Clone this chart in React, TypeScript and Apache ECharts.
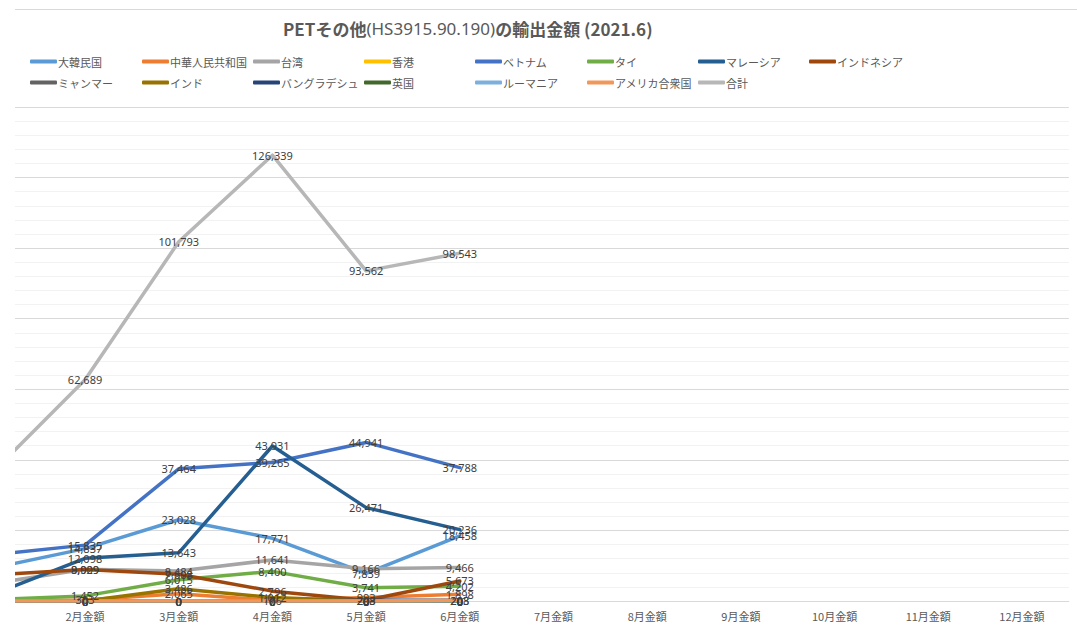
import React, { useEffect, useRef } from "react";
import * as echarts from "echarts";

const months = ["1月金額", "2月金額", "3月金額", "4月金額", "5月金額", "6月金額", "7月金額", "8月金額", "9月金額", "10月金額", "11月金額", "12月金額"];

const seriesNames = ["大韓民国", "中華人民共和国", "台湾", "香港", "ベトナム", "タイ", "マレーシア", "インドネシア", "ミャンマー", "インド", "バングラデシュ", "英国", "ルーマニア", "アメリカ合衆国", "合計"];

const korea = [9280, 14837, 23028, 17771, 7839, 18458];
const china = [0, 303, 2065, 176, 993, 1898];
const taiwan = [4900, 9009, 8484, 11641, 9166, 9466];
const hongkong = [0, 0, 0, 0, 0, 0];
const vietnam = [13100, 15835, 37464, 39265, 44941, 37788];
const thailand = [400, 1452, 6015, 8400, 3741, 4202];
const malaysia = [1730, 12098, 13643, 43931, 26471, 20236];
const indonesia = [7350, 8929, 7608, 2796, 203, 5673];
const myanmar = [0, 0, 0, 0, 0, 0];
const india = [0, 0, 3486, 1012, 0, 0];
const bangladesh = [0, 0, 0, 0, 208, 208];
const uk = [0, 0, 0, 0, 0, 0];
const romania = [0, 0, 0, 0, 0, 0];
const usa = [0, 0, 0, 0, 0, 203];
const total = [36100, 62689, 101793, 126339, 93562, 98543];

const seriesValues = [korea, china, taiwan, hongkong, vietnam, thailand, malaysia, indonesia, myanmar, india, bangladesh, uk, romania, usa, total];

const colors = ["#5B9BD5", "#ED7D31", "#A5A5A5", "#FFC000", "#4472C4", "#70AD47", "#255E91", "#9E480E", "#636363", "#997300", "#264478", "#43682B", "#7CAFDD", "#F1975A", "#B7B7B7"];

// the chart canvas is shifted left by OFFSET px so the first month falls off-page
const OFFSET = 70;
const legendCols = [30, 142, 253, 364, 475, 587, 698, 809];
const legendRows = [56, 77];

export default function App() {
  const ref = useRef<HTMLDivElement>(null);
  useEffect(() => {
    document.body.style.margin = "0";
    const chart = echarts.init(ref.current!, null, { renderer: "svg" });
    const font = "'Noto Sans CJK JP', 'Noto Sans', sans-serif";
    const legends = seriesNames.map((name, i) => ({
      data: [name],
      left: legendCols[i % 8] + OFFSET,
      top: legendRows[Math.floor(i / 8)],
      padding: 0,
      icon: "roundRect",
      itemWidth: 27,
      itemHeight: 4,
      textStyle: { color: "#595959", fontSize: 11, fontFamily: font, padding: [0, 0, 0, -4] },
    }));
    const series = seriesNames.map((name, i) => ({
      name,
      type: "line",
      data: seriesValues[i].map((v, j) => (j === 0 ? { value: v, label: { show: false } } : v)),
      symbol: "circle",
      symbolSize: 0,
      showSymbol: true,
      lineStyle: { width: 3.5, color: colors[i], cap: "round", join: "round" },
      itemStyle: { color: colors[i] },
      label: {
        show: true,
        position: "inside",
        color: "#404040",
        fontSize: 11,
        fontFamily: "'Noto Sans', sans-serif",
        formatter: (p: any) => Number(p.value).toLocaleString("en-US"),
      },
      emphasis: { disabled: true },
    }));
    chart.setOption({
      animation: false,
      color: colors,
      title: {
        text: "{b|PETその他}{n|(HS3915.90.190)}{b|の輸出金額 (2021.6)}",
        left: 283 + OFFSET,
        top: 20,
        padding: 0,
        textStyle: {
          rich: {
            b: { fontSize: 17, fontWeight: "bold", color: "#595959", fontFamily: font },
            n: { fontSize: 17, fontWeight: "normal", color: "#595959", fontFamily: "'Liberation Sans Narrow', 'Noto Sans', sans-serif" },
          },
        },
      },
      legend: legends,
      grid: { left: OFFSET - 55.5, right: 8.2, top: 107, bottom: 29, containLabel: false },
      xAxis: {
        type: "category",
        data: months,
        boundaryGap: true,
        axisLine: { lineStyle: { color: "#d9d9d9" } },
        axisTick: { show: false },
        axisLabel: {
          color: "#595959",
          fontSize: 11,
          margin: 9,
          fontFamily: font,
          interval: (idx: number) => idx !== 0,
        },
      },
      yAxis: {
        type: "value",
        min: 0,
        max: 140000,
        interval: 20000,
        axisLabel: { show: false },
        axisLine: { show: false },
        axisTick: { show: false },
        splitLine: { lineStyle: { color: "#d9d9d9" } },
        minorTick: { show: false, splitNumber: 5 },
        minorSplitLine: { show: true, lineStyle: { color: "#f2f2f2" } },
      },
      graphic: [
        { type: "rect", shape: { x: 0, y: 95, width: OFFSET + 15, height: 535 }, style: { fill: "#ffffff" }, z: 100 },
        { type: "line", shape: { x1: OFFSET + 15, y1: 9.5, x2: 1077 + OFFSET, y2: 9.5 }, style: { stroke: "#d9d9d9", lineWidth: 1 }, z: 100 },
      ],
      series,
    });
    return () => chart.dispose();
  }, []);
  return (
    <div style={{ position: "relative", width: 1077, height: 630, overflow: "hidden" }}>
      <div ref={ref} style={{ position: "absolute", left: -OFFSET, top: 0, width: 1077 + OFFSET, height: 630 }} />
    </div>
  );
}
